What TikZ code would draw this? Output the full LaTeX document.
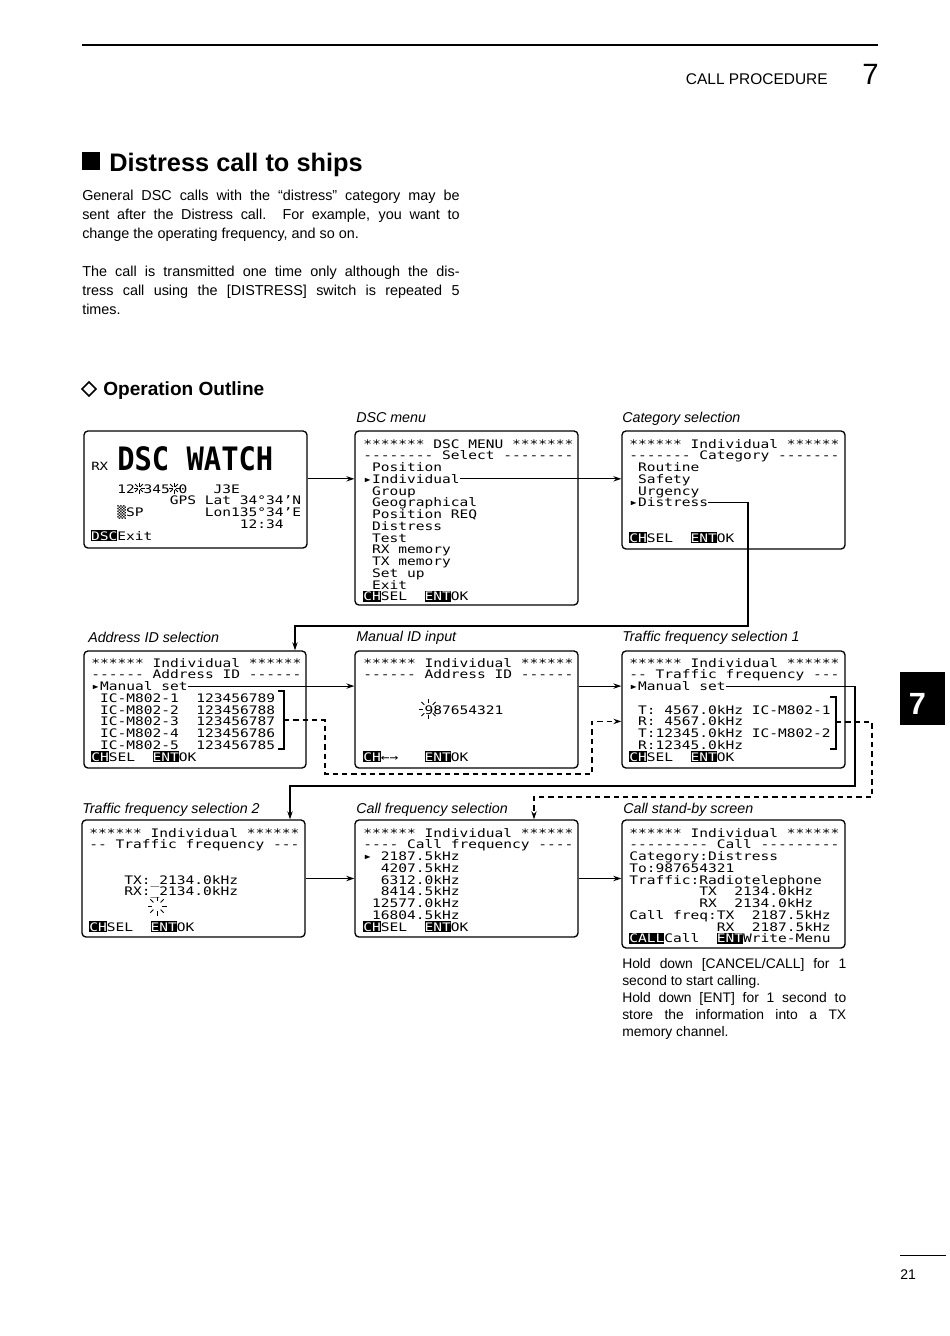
\documentclass[tikz,border=0pt]{standalone}
\usepackage{fontspec}
\setmainfont{Liberation Sans}
\setmonofont{DejaVu Sans Mono}[FakeStretch=1.24]
\newfontfamily\lcdbig{DejaVu Sans Mono}
\usetikzlibrary{arrows.meta, positioning, fit, calc}

% inverse key caption on the LCD
\newcommand\lcdkey[1]{\setbox0\hbox{#1}\rlap{\rule[-1pt]{\wd0}{8.5pt}}\textcolor{white}{#1}}
% LCD rows: name, x0, first baseline, list of row/column/text
\newcommand\lcdrows[4]{%
  \foreach \r/\c/\t in {#4}{
    \node[lcd] (#1-\r) at ({#2+(\c)*8.75}, {#3+(\r)*11.75}) {\t};
  }}
% flashing digit marks
\newcommand\flash[3]{%
  \foreach \a in {0,45,...,315}{
    \draw[line width=0.6pt] (#1) ++(\a:#2) -- ++(\a:#3-#2);
  }}

\begin{document}
\begin{tikzpicture}[x=0.75pt, y=-0.75pt,
  screen/.style={draw, line width=1pt, rounded corners=3pt, inner sep=0pt},
  lcd/.style={font=\ttfamily\fontsize{8.8}{8.8}\selectfont, inner sep=0pt, anchor=base west},
  caption/.style={font=\itshape\fontsize{10.7}{12}\selectfont, inner sep=0pt, anchor=base west},
  body/.style={font=\fontsize{10.8}{14.25}\selectfont, inner sep=0pt, anchor=north west,
    text width=283pt, align=justify},
  link/.style={line width=0.8pt, -{Stealth[length=6pt,width=4pt]}},
  dlink/.style={link, dash pattern=on 4pt off 3pt},
  bracket/.style={line width=0.8pt}]
  \fill[white] (0,0) rectangle (950,1336);
  \useasboundingbox (0,0) rectangle (950,1336);

  % Page header
  \draw[line width=1.5pt] (82,45) -- (878,45);
  \node[anchor=base east, inner sep=0pt, font=\fontsize{11.6}{14}\selectfont] (chap) at (828,84) {CALL PROCEDURE};
  \node[anchor=base west, inner sep=0pt, font=\fontsize{22}{24}\selectfont] (chapno) at (862,84) {7};

  % Title and text
  \fill (82,152) rectangle (100,170);
  \node[anchor=base west, inner sep=0pt, font=\bfseries\fontsize{19}{22}\selectfont] (title) at (109,171) {Distress call to ships};
  \node[body] (intro) at (82,190) {General DSC calls with the “distress” category may be\linebreak
    sent after the Distress call. For example, you want to\linebreak
    change the operating frequency, and so on.};
  \node[body] (once) at (82,266) {The call is transmitted one time only although the dis-\linebreak
    tress call using the [DISTRESS] switch is repeated 5\linebreak
    times.};
  \draw[line width=1.2pt] (89,382) -- (96,389) -- (89,396) -- (82,389) -- cycle;
  \node[anchor=base west, inner sep=0pt, font=\bfseries\fontsize{14.3}{17}\selectfont] (outline) at (103,395) {Operation Outline};

  % Screens
  \node[screen, fit={(84,431) (307,548)}] (watch) {};
  \node[screen, fit={(355,431) (578,605)}] (menu) {};
  \node[screen, fit={(622,431) (845,549)}] (cat) {};
  \node[screen, fit={(84,651) (306,768)}] (addr) {};
  \node[screen, fit={(355,651) (578,768)}] (manual) {};
  \node[screen, fit={(622,651) (845,768)}] (traf1) {};
  \node[screen, fit={(82,820) (305,937)}] (traf2) {};
  \node[screen, fit={(355,820) (578,937)}] (cfreq) {};
  \node[screen, fit={(622,820) (845,948)}] (standby) {};

  % Captions
  \node[caption] (menucap) at (356,422) {DSC menu};
  \node[caption] (catcap) at (622,422) {Category selection};
  \node[caption] (addrcap) at (88,642) {Address ID selection};
  \node[caption] (manualcap) at (356,641) {Manual ID input};
  \node[caption] (traf1cap) at (622,641) {Traffic frequency selection 1};
  \node[caption] (traf2cap) at (82,813) {Traffic frequency selection 2};
  \node[caption] (cfreqcap) at (356,813) {Call frequency selection};
  \node[caption] (standbycap) at (623,813) {Call stand-by screen};

  % DSC watch
  \node[lcd, font=\ttfamily\fontsize{8.5}{9}\selectfont] (watch-rx) at (91,470) {RX};
  \node[lcd, font=\lcdbig\bfseries\fontsize{21.6}{22}\selectfont] (watch-big) at (117,470) {\scalebox{1}[1.12]{DSC~WATCH}};
  \lcdrows{watch}{117}{493}{0/0/{12~345~0~~~J3E}, 1/6/{GPS~Lat~34°34’N},
    2/0/{▒SP~~~~~~~Lon135°34’E}, 3/14/{12:34}, 4/-3/{\lcdkey{DSC}Exit}}
  \flash{139,488}{1.5}{5.5}
  \flash{174,488}{1.5}{5.5}

  % DSC menu
  \lcdrows{menu}{363}{448}{0/0/{*******~DSC~MENU~*******}, 1/0/{--------~Select~--------},
    2/1/Position, 3/0/{▸Individual}, 4/1/Group, 5/1/Geographical, 6/1/{Position~REQ},
    7/1/Distress, 8/1/Test, 9/1/{RX~memory}, 10/1/{TX~memory}, 11/1/{Set~up}, 12/1/Exit,
    13/0/{\lcdkey{CH}SEL~~\lcdkey{ENT}OK}}

  % Category
  \lcdrows{cat}{629}{448}{0/0/{******~Individual~******}, 1/0/{-------~Category~-------},
    2/1/Routine, 3/1/Safety, 4/1/Urgency, 5/0/{▸Distress},
    8/0/{\lcdkey{CH}SEL~~\lcdkey{ENT}OK}}

  % Address ID
  \lcdrows{addr}{91}{667}{0/0/{******~Individual~******}, 1/0/{------~Address~ID~------},
    2/0/{▸Manual~set}, 3/1/{IC-M802-1~~123456789}, 4/1/{IC-M802-2~~123456788},
    5/1/{IC-M802-3~~123456787}, 6/1/{IC-M802-4~~123456786}, 7/1/{IC-M802-5~~123456785},
    8/0/{\lcdkey{CH}SEL~~\lcdkey{ENT}OK}}
  \draw[bracket] (278,691) -- (284,691) -- (284,749) -- (278,749);
  \coordinate (br1) at (284,720);

  % Manual ID
  \lcdrows{manual}{363}{667}{0/0/{******~Individual~******}, 1/0/{------~Address~ID~------},
    4/7/987654321, 8/0/{\lcdkey{CH}←→~~~\lcdkey{ENT}OK}}
  \flash{428.5,709}{6}{10}

  % Traffic frequency 1
  \lcdrows{traf1}{629}{667}{0/0/{******~Individual~******}, 1/0/{--~Traffic~frequency~---},
    2/0/{▸Manual~set}, 4/1/{T:~4567.0kHz~IC-M802-1}, 5/1/{R:~4567.0kHz},
    6/1/{T:12345.0kHz~IC-M802-2}, 7/1/{R:12345.0kHz}, 8/0/{\lcdkey{CH}SEL~~\lcdkey{ENT}OK}}
  \draw[bracket] (830,697) -- (836,697) -- (836,749) -- (830,749);
  \coordinate (br2) at (836,722);

  % Traffic frequency 2
  \lcdrows{traf2}{89}{837}{0/0/{******~Individual~******}, 1/0/{--~Traffic~frequency~---},
    4/4/{TX:\_2134.0kHz}, 5/4/{RX:\_2134.0kHz}, 8/0/{\lcdkey{CH}SEL~~\lcdkey{ENT}OK}}
  \flash{157,906}{5}{9.5}

  % Call frequency
  \lcdrows{cfreq}{363}{837}{0/0/{******~Individual~******}, 1/0/{----~Call~frequency~----},
    2/0/{▸~2187.5kHz}, 3/2/4207.5kHz, 4/2/6312.0kHz, 5/2/8414.5kHz, 6/1/12577.0kHz,
    7/1/16804.5kHz, 8/0/{\lcdkey{CH}SEL~~\lcdkey{ENT}OK}}

  % Call stand-by
  \lcdrows{standby}{629}{837}{0/0/{******~Individual~******}, 1/0/{---------~Call~---------},
    2/0/{Category:Distress}, 3/0/{To:987654321}, 4/0/{Traffic:Radiotelephone},
    5/8/{TX~~2134.0kHz}, 6/8/{RX~~2134.0kHz}, 7/0/{Call~freq:TX~~2187.5kHz},
    8/10/{RX~~2187.5kHz}, 9/0/{\lcdkey{CALL}Call~~\lcdkey{ENT}Write-Menu}}
  \node[anchor=north west, inner sep=0pt, text width=168pt, align=justify,
    font=\fontsize{10.4}{12.75}\selectfont] (hold) at (622,958)
    {Hold down [CANCEL/CALL] for 1\linebreak second to start calling.\newline
     Hold down [ENT] for 1 second to\linebreak store the information into a TX\linebreak memory channel.};

  % Flow
  \coordinate (turn1) at (748,626);
  \coordinate (drop1) at (295,626);
  \coordinate (jog1) at (325,774);
  \coordinate (jog2) at (592,774);
  \coordinate (turn2) at (855,786);
  \coordinate (drop2) at (290,786);
  \coordinate (jog3) at (872,797);
  \coordinate (drop3) at (534,797);
  \draw[link] (watch.east |- menu-3) -- (menu.west |- menu-3);
  \draw[link] (menu-3.east) -- (cat.west |- menu-3);
  \draw[link] (cat-5.east) -| (turn1) -- (drop1) -- (drop1 |- addr.north);
  \draw[link] (addr-2.east) -- (manual.west |- addr-2);
  \draw[link] (manual.east |- addr-2) -- (traf1.west |- addr-2);
  \draw[dlink] (br1) -| (jog1) -- (jog2) |- (traf1.west |- traf1-5);
  \draw[link] (traf1-2.east) -| (turn2) -- (drop2) -- (drop2 |- traf2.north);
  \draw[dlink] (br2) -| (jog3) -- (drop3) -- (drop3 |- cfreq.north);
  \draw[link] (traf2.east) -- (cfreq.west);
  \draw[link] (cfreq.east) -- (standby.west |- cfreq.east);

  % Chapter tab and page number
  \fill (900,672) rectangle (945,725);
  \node[text=white, inner sep=0pt, font=\bfseries\fontsize{23}{24}\selectfont] (tab) at (917.5,704) {7};
  \draw[line width=0.75pt] (900,1255) -- (946,1255);
  \node[anchor=base west, inner sep=0pt, font=\fontsize{10.5}{12}\selectfont] (pageno) at (900,1279) {21};
\end{tikzpicture}
\end{document}
